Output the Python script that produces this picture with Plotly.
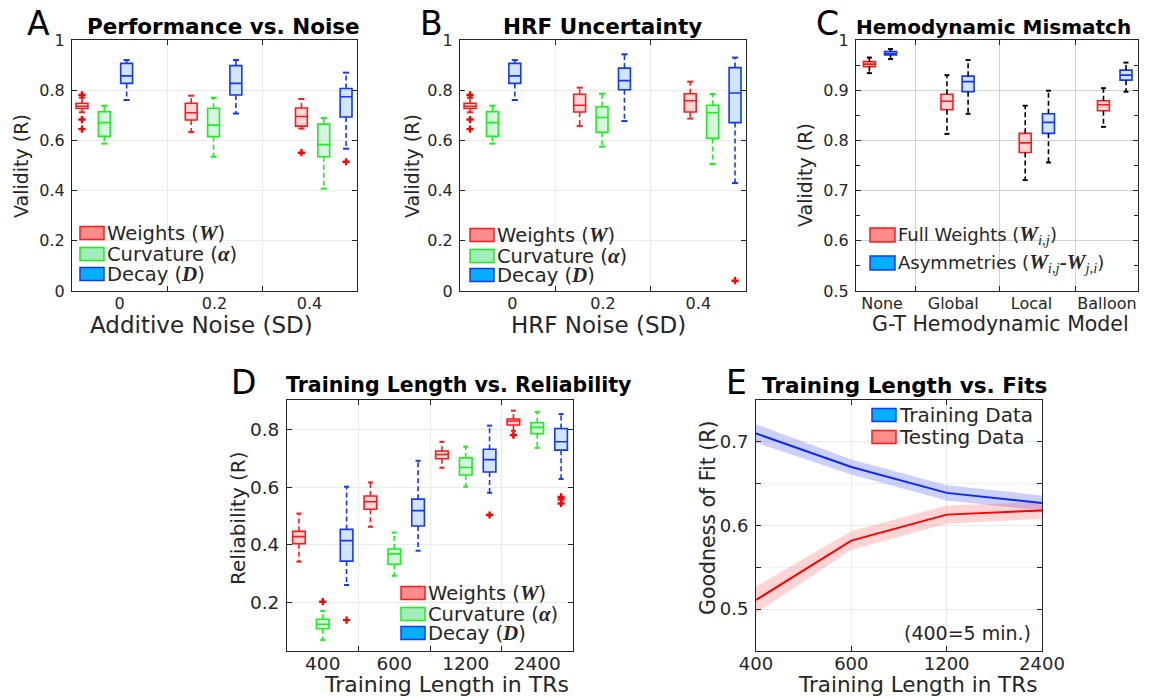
import plotly.graph_objects as go

W_PX, H_PX = 1150, 697
FONT = "DejaVu Sans"
SERIF = "Liberation Serif"
TXT = "#262626"

# ---------------- DATA ----------------
# box stats per group: [lower whisker, q1, median, q3, upper whisker]
A_GROUPS = ["0", "0.2", "0.4"]
A_WEIGHTS = [[0.712, 0.727, 0.736, 0.748, 0.770], [0.633, 0.681, 0.710, 0.748, 0.778], [0.647, 0.657, 0.695, 0.729, 0.765]]
A_WEIGHTS_OUT = [[0.781, 0.683, 0.645], [], [0.551]]
A_CURV = [[0.587, 0.616, 0.671, 0.714, 0.738], [0.535, 0.615, 0.661, 0.728, 0.770], [0.408, 0.535, 0.583, 0.665, 0.689]]
A_CURV_OUT = [[], [], []]
A_DECAY = [[0.761, 0.827, 0.857, 0.907, 0.920], [0.707, 0.781, 0.827, 0.898, 0.920], [0.567, 0.693, 0.774, 0.807, 0.870]]
A_DECAY_OUT = [[], [], [0.515]]

B_GROUPS = ["0", "0.2", "0.4"]
B_WEIGHTS = [[0.712, 0.727, 0.736, 0.748, 0.770], [0.657, 0.713, 0.740, 0.784, 0.810], [0.687, 0.713, 0.758, 0.786, 0.834]]
B_WEIGHTS_OUT = [[0.781, 0.683, 0.645], [], []]
B_CURV = [[0.587, 0.616, 0.671, 0.714, 0.738], [0.575, 0.632, 0.691, 0.734, 0.786], [0.506, 0.608, 0.710, 0.740, 0.785]]
B_CURV_OUT = [[], [], []]
B_DECAY = [[0.761, 0.827, 0.857, 0.907, 0.920], [0.677, 0.802, 0.838, 0.888, 0.943], [0.430, 0.671, 0.789, 0.890, 0.930]]
B_DECAY_OUT = [[], [], [0.041]]

C_CATS = ["None", "Global", "Local", "Balloon"]
C_FULL = [[0.934, 0.947, 0.952, 0.957, 0.965], [0.813, 0.861, 0.878, 0.892, 0.930], [0.721, 0.776, 0.795, 0.814, 0.869], [0.827, 0.859, 0.871, 0.879, 0.904]]
C_ASYM = [[0.962, 0.970, 0.973, 0.977, 0.982], [0.853, 0.897, 0.917, 0.928, 0.960], [0.756, 0.814, 0.836, 0.853, 0.899], [0.897, 0.920, 0.930, 0.940, 0.955]]

D_CATS = ["400", "600", "1200", "2400"]
D_WEIGHTS = [[0.341, 0.403, 0.428, 0.446, 0.508], [0.462, 0.523, 0.549, 0.569, 0.616], [0.667, 0.698, 0.713, 0.725, 0.757], [0.795, 0.815, 0.829, 0.836, 0.865]]
D_WEIGHTS_OUT = [[], [], [], [0.780]]
D_CURV = [[0.069, 0.108, 0.124, 0.141, 0.170], [0.292, 0.332, 0.368, 0.385, 0.442], [0.601, 0.642, 0.668, 0.701, 0.740], [0.736, 0.785, 0.807, 0.823, 0.861]]
D_CURV_OUT = [[0.202], [], [], []]
D_DECAY = [[0.260, 0.343, 0.414, 0.453, 0.601], [0.379, 0.465, 0.518, 0.558, 0.691], [0.580, 0.652, 0.695, 0.731, 0.813], [0.628, 0.728, 0.757, 0.803, 0.853]]
D_DECAY_OUT = [[0.138], [], [0.503], [0.566, 0.557, 0.543]]

E_X = ["400", "600", "1200", "2400"]
E_TRAIN = [0.710, 0.670, 0.639, 0.627]
E_TRAIN_ERR = [0.011, 0.009, 0.009, 0.009]
E_TEST = [0.511, 0.582, 0.613, 0.618]
E_TEST_ERR = [0.016, 0.011, 0.011, 0.010]

# ---------------- STYLE ----------------
RED = dict(edge="#FF1A1A", fill="rgba(255,0,0,0.16)", swatch="#FF8C8C")
GREEN = dict(edge="#1AF01A", fill="rgba(0,200,60,0.16)", swatch="#A3EBBB")
BLUE = dict(edge="#1438FF", fill="rgba(0,110,240,0.18)", swatch="#00B0FF")


def px(x):
    return x / W_PX


def py(y):
    return 1 - y / H_PX


def m(s, size=21):
    return f'<span style="font-family:{SERIF};font-size:{size}px"><b><i>{s}</i></b></span>'


fig = go.Figure()


def add_boxes(ax, positions, stats, outliers, col, whisk, width, cap):
    xa, ya = ("x" + ax, "y" + ax)
    lo = [s[0] for s in stats]
    q1 = [s[1] for s in stats]
    md = [s[2] for s in stats]
    q3 = [s[3] for s in stats]
    hi = [s[4] for s in stats]
    wx, wy, cx, cy = [], [], [], []
    for p, a, b, c, d in zip(positions, lo, q1, q3, hi):
        wx += [p, p, None, p, p, None]
        wy += [c, d, None, b, a, None]
        cx += [p - cap, p + cap, None, p - cap, p + cap, None]
        cy += [d, d, None, a, a, None]
    fig.add_trace(go.Scatter(x=wx, y=wy, mode="lines", xaxis=xa, yaxis=ya,
                             line=dict(color=whisk, width=1.6, dash="5px,3px"),
                             showlegend=False, hoverinfo="skip"))
    fig.add_trace(go.Scatter(x=cx, y=cy, mode="lines", xaxis=xa, yaxis=ya,
                             line=dict(color=whisk, width=2),
                             showlegend=False, hoverinfo="skip"))
    fig.add_trace(go.Box(x=positions, q1=q1, median=md, q3=q3, lowerfence=q1, upperfence=q3,
                         width=width, whiskerwidth=0, fillcolor=col["fill"],
                         line=dict(color=col["edge"], width=1.6), boxpoints=False,
                         xaxis=xa, yaxis=ya, showlegend=False, hoverinfo="skip"))
    ox, oy = [], []
    for p, outs in zip(positions, outliers):
        for o in outs:
            ox.append(p)
            oy.append(o)
    if ox:
        fig.add_trace(go.Scatter(x=ox, y=oy, mode="markers", xaxis=xa, yaxis=ya,
                                 marker=dict(symbol="cross", size=6, color="#FF0000"),
                                 showlegend=False, hoverinfo="skip"))


# Panels A and B
AB_CENTERS = [0.84, 1.99, 3.15]
AB_OFF = [-0.235, 0.0, 0.235]
for ax, series in (("", [(A_WEIGHTS, A_WEIGHTS_OUT, RED), (A_CURV, A_CURV_OUT, GREEN), (A_DECAY, A_DECAY_OUT, BLUE)]),
                   ("2", [(B_WEIGHTS, B_WEIGHTS_OUT, RED), (B_CURV, B_CURV_OUT, GREEN), (B_DECAY, B_DECAY_OUT, BLUE)])):
    for k, (st, outs, col) in enumerate(series):
        pos = [c + AB_OFF[k] for c in AB_CENTERS]
        add_boxes(ax, pos, st, outs, col, col["edge"], 0.125, 0.032)

# Panel C
C_POS_FULL = [0.69, 1.79, 2.90, 4.01]
C_POS_ASYM = [0.99, 2.09, 3.23, 4.33]
add_boxes("3", C_POS_FULL, C_FULL, [[]] * 4, RED, "#000000", 0.17, 0.035)
add_boxes("3", C_POS_ASYM, C_ASYM, [[]] * 4, BLUE, "#000000", 0.17, 0.035)

# Panel D
for k, (st, outs, col) in enumerate([(D_WEIGHTS, D_WEIGHTS_OUT, RED), (D_CURV, D_CURV_OUT, GREEN), (D_DECAY, D_DECAY_OUT, BLUE)]):
    pos = [g * 3 + 1 + k for g in range(len(D_CATS))]
    add_boxes("4", pos, st, outs, col, col["edge"], 0.53, 0.105)

# Panel E
ex = list(range(len(E_X)))
for mean, err, band_c in ((E_TRAIN, E_TRAIN_ERR, "rgba(40,60,255,0.24)"),
                          (E_TEST, E_TEST_ERR, "rgba(255,40,40,0.20)")):
    up = [a + b for a, b in zip(mean, err)]
    dn = [a - b for a, b in zip(mean, err)]
    fig.add_trace(go.Scatter(x=ex + ex[::-1], y=up + dn[::-1], fill="toself", fillcolor=band_c,
                             line=dict(width=0), mode="lines", xaxis="x5", yaxis="y5",
                             showlegend=False, hoverinfo="skip"))
for mean, line_c in ((E_TRAIN, "#0A28FF"), (E_TEST, "#FF0000")):
    fig.add_trace(go.Scatter(x=ex, y=mean, mode="lines", line=dict(color=line_c, width=2),
                             xaxis="x5", yaxis="y5", showlegend=False, hoverinfo="skip"))

# ---------------- AXES ----------------
def axis_common(size, grid, standoff=3):
    return dict(showline=True, linecolor=TXT, linewidth=1, mirror="allticks",
                ticks="inside", ticklen=5, tickcolor=TXT, zeroline=False, automargin=False,
                tickfont=dict(family=FONT, size=size, color=TXT), gridcolor=grid,
                ticklabelstandoff=standoff)


def xaxis_groups(dom, anchor, rng, labpos, labels, gridpos, size, grid, standoff):
    d = axis_common(size, grid, standoff=standoff)
    d.update(domain=dom, anchor=anchor, range=rng, tickmode="array", tickvals=labpos,
             ticktext=labels, ticks="", showgrid=False,
             minor=dict(tickmode="array", tickvals=gridpos, ticks="inside", ticklen=5,
                        tickcolor=TXT, showgrid=True, gridcolor=grid))
    return d


GRID = "#EBEBEB"
TOP = [py(291), py(40)]
BOT = [py(651), py(400)]

layout = dict(width=W_PX, height=H_PX, margin=dict(l=0, r=0, t=0, b=0, pad=0, autoexpand=False),
              paper_bgcolor="white", plot_bgcolor="white", showlegend=False,
              font=dict(family=FONT, color=TXT))

layout["xaxis"] = xaxis_groups([px(72), px(357)], "y", [0.5, 3.5], [1, 2, 3], A_GROUPS, [1.5, 2.5], 16, GRID, -2)
ya = axis_common(16, GRID); ya.update(domain=TOP, anchor="x", range=[0, 1], dtick=0.2, showgrid=True)
layout["yaxis"] = ya

layout["xaxis2"] = xaxis_groups([px(460), px(746)], "y2", [0.5, 3.5], [1.05, 2, 3], B_GROUPS, [1.5, 2.5], 16, GRID, -2)
yb = axis_common(16, GRID); yb.update(domain=TOP, anchor="x2", range=[0, 1], dtick=0.2, showgrid=True)
layout["yaxis2"] = yb

CGRID = "#D2D2D2"
layout["xaxis3"] = xaxis_groups([px(856), px(1138)], "y3", [0.5, 4.5], [0.87, 1.88, 2.99, 4.06], C_CATS, [1.34, 2.54, 3.62], 16, CGRID, -2)
yc = axis_common(16, CGRID); yc.update(domain=TOP, anchor="x3", range=[0.5, 1], dtick=0.1, showgrid=True,
                                       minor=dict(dtick=0.05, ticks="inside", ticklen=4, tickcolor=TXT, showgrid=False))
layout["yaxis3"] = yc

layout["xaxis4"] = xaxis_groups([px(287), px(573)], "y4", [0.5, 12.5], [2, 5, 8, 11], D_CATS, [3.5, 6.5, 9.5], 18.5, GRID, -4)
yd = axis_common(18.5, GRID); yd.update(domain=BOT, anchor="x4", range=[0.031, 0.902], tickvals=[0.2, 0.4, 0.6, 0.8], showgrid=True)
layout["yaxis4"] = yd

xe = axis_common(18, GRID, standoff=-4); xe.update(domain=[px(756), px(1042)], anchor="y5", range=[0, 3], tickmode="array",
                                                   tickvals=ex, ticktext=E_X, showgrid=True)
layout["xaxis5"] = xe
ye = axis_common(18, GRID); ye.update(domain=BOT, anchor="x5", range=[0.45, 0.75], tickvals=[0.5, 0.6, 0.7], showgrid=True,
                                      minor=dict(dtick=0.05, ticks="inside", ticklen=5, tickcolor=TXT, showgrid=True, gridcolor="#F2F2F2"))
layout["yaxis5"] = ye

fig.update_layout(**layout)

# ---------------- TEXT ----------------
def ann(text, x, y, size, color=TXT, bold=False, angle=0, xanchor="center"):
    fig.add_annotation(text=f"<b>{text}</b>" if bold else text, x=px(x), y=py(y), xref="paper", yref="paper",
                       showarrow=False, xanchor=xanchor, yanchor="middle", textangle=angle, borderpad=0,
                       font=dict(family=FONT, size=size, color=color))


# panel letters & titles
for letter, lx, ly in (("A", 38, 24), ("B", 431, 24), ("C", 827, 24), ("D", 243, 382), ("E", 736, 382)):
    ann(letter, lx, ly, 33, color="#000000")
ann("Performance vs. Noise", 223, 27, 21.5, color="#000000", bold=True)
ann("HRF Uncertainty", 602, 27, 21.5, color="#000000", bold=True)
ann("Hemodynamic Mismatch", 993, 27, 20, color="#000000", bold=True)
ann("Training Length vs. Reliability", 458, 385, 20.5, color="#000000", bold=True)
ann("Training Length vs. Fits", 904, 385, 21.5, color="#000000", bold=True)

# axis titles
ann("Validity (R)", 21, 166, 19, angle=-90)
ann("Additive Noise (SD)", 201, 325, 23)
ann("Validity (R)", 412, 166, 19, angle=-90)
ann("HRF Noise (SD)", 599, 325, 23)
ann("Validity (R)", 805, 175, 19, angle=-90)
ann("G-T Hemodynamic Model", 1000, 324, 20.5)
ann("Reliability (R)", 238, 518, 20, angle=-90)
ann("Training Length in TRs", 446, 684, 22)
ann("Goodness of Fit (R)", 708, 518, 20.5, angle=-90)
ann("Training Length in TRs", 917, 684, 21.5)
ann("(400=5 min.)", 1032, 633, 19, xanchor="right")

# legends (swatch + label)
BOX_LABELS = ["Weights (" + m("W") + ")", "Curvature (" + m("α") + ")", "Decay (" + m("D") + ")"]
CW = f'<span style="font-family:{SERIF};font-size:21px"><b><i>W</i></b><sub><i>i,j</i></sub>'
C_LABELS = ["Full Weights (" + CW + "</span>)",
            "Asymmetries (" + CW + "<b>-</b><b><i>W</i></b><sub><i>j,i</i></sub></span>)"]
E_LABELS = ["Training Data", "Testing Data"]


def legend(x0, rows, labels, cols, size, sw=24, sh=13):
    for yy, lab, col in zip(rows, labels, cols):
        fig.add_shape(type="rect", xref="paper", yref="paper", x0=px(x0), x1=px(x0 + sw),
                      y0=py(yy + sh / 2), y1=py(yy - sh / 2), fillcolor=col["swatch"],
                      line=dict(color=col["edge"], width=1.5))
        ann(lab, x0 + sw + 2, yy, size, xanchor="left")


legend(80, [233, 254, 274], BOX_LABELS, [RED, GREEN, BLUE], 19.5)
legend(470, [235, 256, 275], BOX_LABELS, [RED, GREEN, BLUE], 19.5)
legend(870, [235, 263], C_LABELS, [RED, BLUE], 18, sw=25, sh=14)
legend(401, [593, 614, 633], BOX_LABELS, [RED, GREEN, BLUE], 19.5)
legend(872, [415, 437], E_LABELS, [BLUE, RED], 20)

fig.write_html("out.html", config={"displayModeBar": False},
               post_script="document.body.style.margin='0px';document.body.style.overflow='hidden';")
